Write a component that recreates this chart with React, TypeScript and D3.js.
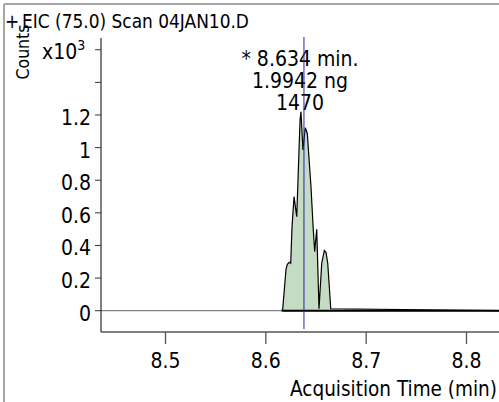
import React from "react";
import * as d3 from "d3";

const W = 499;
const H = 402;

// Chromatogram trace (acquisition time in min, counts in x10^3)
const traceTimes = [
  8.6158, 8.6168, 8.6201, 8.6214, 8.6234, 8.6248, 8.6261, 8.6281, 8.6308,
  8.6341, 8.635, 8.637, 8.6393, 8.6413, 8.645, 8.6473, 8.6487, 8.6507, 8.653,
  8.6557, 8.6583, 8.66, 8.6617, 8.6647, 8.8324,
];
const traceCounts = [
  0, 0.009, 0.254, 0.284, 0.297, 0.291, 0.515, 0.699, 0.576, 1.169, 1.22,
  0.985, 1.122, 1.088, 0.76, 0.495, 0.362, 0.499, 0.012, 0.291, 0.368, 0.356,
  0.291, 0.012, 0,
];

const xTicks = [8.5, 8.6, 8.7, 8.8];
const xTickLabels = ["8.5", "8.6", "8.7", "8.8"];
const yTicks = [0, 0.2, 0.4, 0.6, 0.8, 1, 1.2];
const yTickLabels = ["0", "0.2", "0.4", "0.6", "0.8", "1", "1.2"];
const yExtraTicks = [1.4, 1.6];

const titlePrefix = "+";
const titleText = "EIC (75.0) Scan 04JAN10.D";
const annotationLines = ["* 8.634 min.", "1.9942 ng", "1470"];
const markerTime = 8.638;
const xDomain = [8.4357, 8.8324];
const yDomain = [0, 1.672];

const FONT = "'DejaVu Sans Condensed', 'DejaVu Sans', sans-serif";

export default function App() {
  const left = 101;
  const right = 499;
  const top = 38;
  const bottom = 310.7;
  const axisY = 332;

  const x = d3.scaleLinear().domain(xDomain).range([left, right]);
  const y = d3.scaleLinear().domain(yDomain).range([bottom, top]);

  const pts = traceTimes.map((t, i) => [t, traceCounts[i]] as [number, number]);
  const area = d3
    .area<[number, number]>()
    .x((d) => x(d[0]))
    .y0(y(0))
    .y1((d) => y(d[1]));
  const line = d3
    .line<[number, number]>()
    .x((d) => x(d[0]))
    .y((d) => y(d[1]));

  const mx = x(markerTime);
  const t0 = traceTimes[0];
  const t1 = traceTimes[traceTimes.length - 1];

  return (
    <svg
      width={W}
      height={H}
      style={{ position: "absolute", left: 0, top: 0, background: "#fff" }}
      fontFamily={FONT}
    >
      {/* frame */}
      <line x1={4} y1={4} x2={W} y2={4} stroke="#a6a6a6" strokeWidth={2} />
      <line x1={4} y1={4} x2={4} y2={H} stroke="#a6a6a6" strokeWidth={2} />

      {/* title */}
      <text x={5} y={28} fontSize={18.9} fill="#000">
        {titlePrefix}
      </text>
      <text x={22} y={28} fontSize={18.9} fill="#000">
        {titleText}
      </text>

      {/* y axis title */}
      <text
        transform={`translate(29,52) rotate(-90)`}
        textAnchor="middle"
        fontSize={17.5}
        fill="#000"
      >
        Counts
      </text>

      {/* baseline */}
      <line x1={left} x2={right} y1={y(0)} y2={y(0)} stroke="#666" strokeWidth={1} />

      {/* peak */}
      <path d={area(pts) || ""} fill="#c5dcc4" stroke="none" />
      <path d={line(pts) || ""} fill="none" stroke="#000" strokeWidth={1.2} />
      <line x1={x(t0)} x2={x(t1)} y1={y(0)} y2={y(0)} stroke="#000" strokeWidth={2} />

      {/* y axis */}
      <line x1={left} x2={left} y1={top} y2={axisY} stroke="#000" strokeWidth={1} />
      {yTicks.map((t, i) => (
        <g key={"yt" + i}>
          <line x1={left - 6} x2={left} y1={y(t)} y2={y(t)} stroke="#333" strokeWidth={1} />
          <text x={91} y={y(t) + 10} textAnchor="end" fontSize={21} fill="#000">
            {yTickLabels[i]}
          </text>
        </g>
      ))}
      {yExtraTicks.map((t, i) => (
        <line key={"ye" + i} x1={left - 6} x2={left} y1={y(t)} y2={y(t)} stroke="#333" strokeWidth={1} />
      ))}
      <text x={42} y={y(yExtraTicks[1]) + 9} fontSize={21} fill="#000">
        x10
        <tspan fontSize={14} dy={-9}>
          3
        </tspan>
      </text>

      {/* x axis */}
      <line x1={left} x2={right} y1={axisY} y2={axisY} stroke="#000" strokeWidth={1} />
      {xTicks.map((t, i) => (
        <g key={"xt" + i}>
          <line x1={x(t)} x2={x(t)} y1={axisY} y2={axisY + 12} stroke="#555" strokeWidth={1.3} />
          <text x={x(t)} y={368} textAnchor="middle" fontSize={21} fill="#000">
            {xTickLabels[i]}
          </text>
        </g>
      ))}
      <text x={497} y={396} textAnchor="end" fontSize={20.5} fill="#000">
        Acquisition Time (min)
      </text>

      {/* annotation */}
      {annotationLines.map((s, i) => (
        <text key={"an" + i} x={300} y={66 + i * 22} textAnchor="middle" fontSize={21} fill="#000">
          {s}
        </text>
      ))}

      {/* retention time marker */}
      <line x1={mx} x2={mx} y1={37} y2={329} stroke="#2323a8" strokeWidth={1} />
    </svg>
  );
}
